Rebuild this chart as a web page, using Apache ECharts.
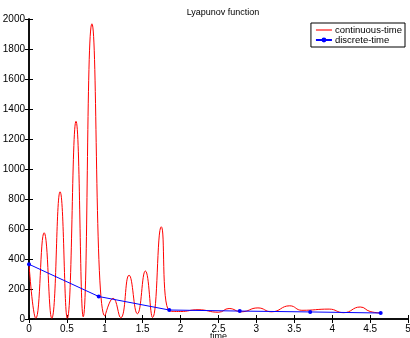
<!DOCTYPE html>
<html>
<head>
<meta charset="utf-8">
<script src="https://cdn.jsdelivr.net/npm/echarts@6/dist/echarts.min.js"></script>
<style>
  html, body { margin: 0; padding: 0; background: #fff; }
  #chart { width: 410px; height: 338px; }
</style>
</head>
<body>
<div id="chart"></div>
<script>
// continuous-time Lyapunov value, [time, V] read from peaks and troughs
var continuousTime = [
    [0, 365], [0.09, 5], [0.2, 575], [0.3, 5], [0.41, 848], [0.505, 5],
    [0.62, 1318], [0.715, 15], [0.83, 1968], [1.0, 20], [1.11, 138], [1.21, 8],
    [1.32, 292], [1.43, 35], [1.535, 320], [1.63, 10], [1.745, 615], [1.85, 55],
    [2.0, 50], [2.23, 62], [2.5, 45], [2.64, 70], [2.8, 48], [3.02, 74],
    [3.2, 48], [3.44, 88], [3.6, 58], [3.96, 66], [4.15, 42], [4.37, 80],
    [4.5, 50], [4.65, 40]
];
// discrete-time samples
var discreteTime = [
    [0, 365], [0.92, 150], [1.85, 60], [2.78, 53], [3.71, 47], [4.64, 40]
];
var xTicks = { min: 0, max: 5, step: 0.5 };
var yTicks = { min: 0, max: 2000, step: 200 };

var chart = echarts.init(document.getElementById('chart'));
var font = 'Liberation Sans, Arial, sans-serif';
var axisLine = { show: true, lineStyle: { color: '#000', width: 1.5 } };
var tick = { show: true, inside: true, length: 4, lineStyle: { color: '#000' } };

chart.setOption({
    animation: false,
    title: {
        text: 'Lyapunov function',
        left: 218,
        textAlign: 'center',
        top: 3,
        textStyle: { fontFamily: font, fontSize: 9, fontWeight: 'normal', color: '#000' }
    },
    legend: {
        orient: 'vertical',
        right: 5,
        top: 23,
        padding: [2, 3, 2, 4],
        itemGap: 0,
        itemWidth: 16,
        itemHeight: 6,
        symbolKeepAspect: true,
        backgroundColor: '#fff',
        borderColor: '#000',
        borderWidth: 1,
        textStyle: { fontFamily: font, fontSize: 9.5, color: '#000', padding: [0, 0, 0, -2] },
        data: [
            { name: 'continuous-time', icon: 'path://M0,0h20v1.4h-20z' },
            { name: 'discrete-time' }
        ]
    },
    grid: { left: 29, right: 2, top: 19, bottom: 19, outerBoundsMode: 'none' },
    xAxis: [{
        type: 'value',
        min: xTicks.min, max: xTicks.max, interval: xTicks.step,
        name: 'time',
        nameLocation: 'middle',
        nameGap: 13,
        nameMoveOverlap: false,
        nameTextStyle: { fontFamily: font, fontSize: 9, color: '#000' },
        axisLine: axisLine,
        axisTick: tick,
        axisLabel: { fontFamily: font, fontSize: 10, color: '#000', margin: 5 },
        splitLine: { show: false }
    }, {
        type: 'value', position: 'top',
        min: xTicks.min, max: xTicks.max, interval: xTicks.step,
        axisLine: axisLine, axisTick: tick,
        axisLabel: { show: false }, splitLine: { show: false }
    }],
    yAxis: [{
        type: 'value',
        min: yTicks.min, max: yTicks.max, interval: yTicks.step,
        axisLine: axisLine,
        axisTick: tick,
        axisLabel: {
            fontFamily: font, fontSize: 10, color: '#000', margin: 4,
            formatter: function (v) { return String(v); }
        },
        splitLine: { show: false }
    }, {
        type: 'value', position: 'right',
        min: yTicks.min, max: yTicks.max, interval: yTicks.step,
        axisLine: axisLine, axisTick: tick,
        axisLabel: { show: false }, splitLine: { show: false }
    }],
    series: [{
        name: 'continuous-time',
        type: 'line',
        data: continuousTime,
        smooth: 0.5,
        showSymbol: false,
        symbol: 'none',
        itemStyle: { color: '#ff0000' },
        lineStyle: { color: '#ff0000', width: 1 }
    }, {
        name: 'discrete-time',
        type: 'line',
        data: discreteTime,
        symbol: 'circle',
        symbolSize: 4,
        itemStyle: { color: '#0000ff' },
        lineStyle: { color: '#0000ff', width: 1 }
    }]
});
</script>
</body>
</html>
